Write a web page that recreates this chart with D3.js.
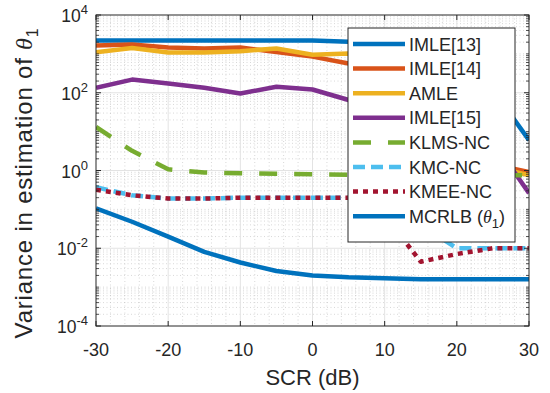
<!DOCTYPE html>
<html><head><meta charset="utf-8">
<script src="https://cdn.jsdelivr.net/npm/d3@7"></script>
<style>
body{margin:0;background:#fff}
svg text{font-family:"Liberation Sans", Arial, Helvetica, sans-serif; fill:#262626}
</style>
</head><body>
<svg id="chart" width="550" height="393"></svg>
<script>
const scr = [-30,-25,-20,-15,-10,-5,0,5,10,15,20,25,30];
const imle13 = [2200,2200,2200,2200,2200,2200,2200,2050,2000,1900,1500,120,6];
const imle14 = [1650,1750,1450,1380,1450,1120,850,565,300,80,10,1.46,0.91];
const amle   = [1100,1420,1090,1090,1175,1380,950,1020,400,60,8,1.3,0.75];
const imle15 = [135,218,174,134,96,142,121,65,40,20,10,5.7,0.26];
const klmsnc = [13.2,3.2,1.07,0.89,0.85,0.82,0.80,0.78,0.77,0.76,0.75,0.75,0.75];
const kmcnc  = [0.37,0.23,0.19,0.19,0.2,0.2,0.2,0.2,0.15,0.04,0.01,0.01,0.01];
const kmeenc = [0.32,0.23,0.19,0.19,0.2,0.2,0.2,0.2,0.07,0.0045,0.0071,0.01,0.01];
const mcrlb  = [0.107,0.048,0.020,0.0081,0.0043,0.0026,0.0020,0.0018,0.0017,0.0016,0.0016,0.0016,0.0016];

const seriesNames = ["IMLE[13]","IMLE[14]","AMLE","IMLE[15]","KLMS-NC","KMC-NC","KMEE-NC","MCRLB"];
const seriesValues = [imle13, imle14, amle, imle15, klmsnc, kmcnc, kmeenc, mcrlb];
const colors = ["#0072BD","#D95319","#EDB120","#7E2F8E","#77AC30","#4DBEEE","#A2142F","#0072BD"];
const dashes = [null,null,null,null,"18,17","12,6","5,5",null];
const xTicks = [-30,-20,-10,0,10,20,30];
const yTickExps = [-4,-2,0,2,4];

const svg = d3.select("#chart");
const L = 96, R = 529, T = 15, B = 326;
const x = d3.scaleLinear().domain([-30,30]).range([L,R]);
const y = d3.scaleLog().domain([1e-4,1e4]).range([B,T]);

// grids
const g = svg.append("g");
const minorX = d3.range(-30,31,2).filter(v=>v%10!==0);
g.selectAll(".mx").data(minorX).enter().append("line")
  .attr("x1",d=>x(d)).attr("x2",d=>x(d)).attr("y1",T).attr("y2",B)
  .attr("stroke","#bdbdbd").attr("stroke-width",0.6).attr("stroke-dasharray","1,2.5");
const minorY = [];
for (let e=-4;e<4;e++) for (let m=1;m<10;m++){ const v=m*Math.pow(10,e); if(!(m===1 && e%2===0)) minorY.push(v);}
g.selectAll(".my").data(minorY).enter().append("line")
  .attr("x1",L).attr("x2",R).attr("y1",d=>y(d)).attr("y2",d=>y(d))
  .attr("stroke","#bdbdbd").attr("stroke-width",0.6).attr("stroke-dasharray","1,2.5");
g.selectAll(".gx").data(xTicks.slice(1,-1)).enter().append("line")
  .attr("x1",d=>x(d)).attr("x2",d=>x(d)).attr("y1",T).attr("y2",B)
  .attr("stroke","#e3e3e3").attr("stroke-width",1);
g.selectAll(".gy").data(yTickExps.slice(1,-1)).enter().append("line")
  .attr("x1",L).attr("x2",R).attr("y1",d=>y(Math.pow(10,d))).attr("y2",d=>y(Math.pow(10,d)))
  .attr("stroke","#e3e3e3").attr("stroke-width",1);

// lines
const line = d3.line().x((d,i)=>x(scr[i])).y(d=>y(d));
svg.append("defs").append("clipPath").attr("id","clip").append("rect")
  .attr("x",L).attr("y",T).attr("width",R-L).attr("height",B-T);
const lg = svg.append("g").attr("clip-path","url(#clip)");
seriesValues.forEach((vals,k)=>{
  lg.append("path").datum(vals).attr("d",line)
    .attr("fill","none").attr("stroke",colors[k]).attr("stroke-width",4.5)
    .attr("stroke-linejoin","round")
    .attr("stroke-dasharray",dashes[k]);
});

// axes (ticks inside)
const ax = svg.append("g").attr("stroke","#262626");
ax.append("rect").attr("x",L).attr("y",T).attr("width",R-L).attr("height",B-T)
  .attr("fill","none").attr("stroke-width",1);
xTicks.forEach(v=>{
  ax.append("line").attr("x1",x(v)).attr("x2",x(v)).attr("y1",B).attr("y2",B-5);
  ax.append("line").attr("x1",x(v)).attr("x2",x(v)).attr("y1",T).attr("y2",T+5);
});
yTickExps.forEach(e=>{
  const yy=y(Math.pow(10,e));
  ax.append("line").attr("x1",L).attr("x2",L+5).attr("y1",yy).attr("y2",yy);
  ax.append("line").attr("x1",R).attr("x2",R-5).attr("y1",yy).attr("y2",yy);
});
minorY.forEach(v=>{
  const yy=y(v);
  ax.append("line").attr("x1",L).attr("x2",L+3).attr("y1",yy).attr("y2",yy).attr("stroke-width",0.8);
  ax.append("line").attr("x1",R).attr("x2",R-3).attr("y1",yy).attr("y2",yy).attr("stroke-width",0.8);
});

// tick labels
svg.selectAll(".xt").data(xTicks).enter().append("text")
  .attr("x",d=>x(d)).attr("y",356).attr("text-anchor","middle")
  .attr("font-size",18).text(d=>d<0?"-"+Math.abs(d):String(d));
yTickExps.forEach(e=>{
  const t = svg.append("text").attr("x",88).attr("y",y(Math.pow(10,e))+7)
    .attr("text-anchor","end").attr("font-size",17.5);
  t.append("tspan").text("10");
  t.append("tspan").attr("dy",-8).attr("font-size",13).text(e<0?"-"+Math.abs(e):String(e));
});

// axis labels
svg.append("text").attr("x",x(0)).attr("y",385).attr("text-anchor","middle")
  .attr("font-size",22).text("SCR (dB)");
const yl = svg.append("text").attr("transform","translate(32,183) rotate(-90)")
  .attr("text-anchor","middle").attr("font-size",24).attr("letter-spacing",0.8);
yl.append("tspan").text("Variance in estimation of ");
yl.append("tspan").attr("font-family","'Liberation Serif', serif").attr("font-style","italic").text("θ");
yl.append("tspan").attr("dy",6).attr("font-size",16).text("1");

// legend
const lx=348, ly=28, lw=167, lh=214;
const leg = svg.append("g");
leg.append("rect").attr("x",lx).attr("y",ly).attr("width",lw).attr("height",lh)
  .attr("fill","#fff").attr("stroke","#262626").attr("stroke-width",1);
seriesNames.forEach((n,k)=>{
  const yy = 44 + k*24.6;
  leg.append("line").attr("x1",353).attr("x2",405).attr("y1",yy).attr("y2",yy)
    .attr("stroke",colors[k]).attr("stroke-width",4.5).attr("stroke-dasharray",dashes[k]);
  const t = leg.append("text").attr("x",409).attr("y",yy+6.5).attr("font-size",18);
  if(n==="MCRLB"){
    t.append("tspan").text("MCRLB (");
    t.append("tspan").attr("font-family","'Liberation Serif', serif").attr("font-style","italic").text("θ");
    t.append("tspan").attr("dy",5).attr("font-size",13).text("1");
    t.append("tspan").attr("dy",-5).text(")");
  } else t.text(n);
});
</script>
</body></html>
